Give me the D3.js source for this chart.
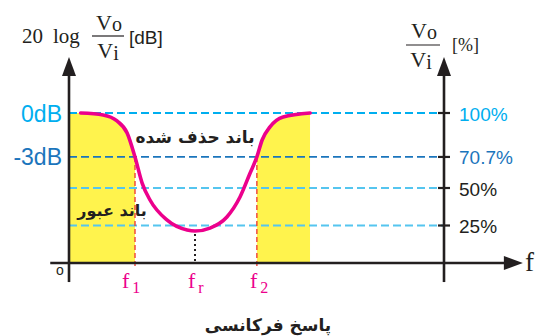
<!DOCTYPE html>
<html>
<head>
<meta charset="utf-8">
<script src="https://cdn.jsdelivr.net/npm/d3@7"></script>
<style>
  html, body { margin: 0; padding: 0; background: #fff; }
  svg { display: block; }
</style>
</head>
<body>
<svg id="chart" width="536" height="336"></svg>
<script>
// Band-stop response: frequency (arbitrary units) vs. Vo/Vi in percent
const freq = [3.1, 9.1, 12.8, 15.5, 17.6, 19.5, 21.6, 26.1, 31.5, 33.6, 37.6, 42.1, 45.6, 48.3, 50.1, 51.5, 53.6, 57.1, 64.3];
const gain = [100, 98.7, 94.7, 86.7, 70.7, 53.3, 42, 28.7, 22, 21.3, 23.3, 30.7, 44, 60, 70.7, 82, 90.7, 97.3, 100];

// Reference levels and their labels
const levels = [100, 70.7, 50, 25];
const pctLabels = ["100%", "70.7%", "50%", "25%"];
const dbLabels = ["0dB", "-3dB"];

// Marked frequencies
const markers = [
  { name: "f", sub: "1", f: 17.6, kind: "cut" },
  { name: "f", sub: "r", f: 33.6, kind: "res" },
  { name: "f", sub: "2", f: 50.1, kind: "cut" }
];
// Pass bands (shaded)
const passBands = [[0, 17.6], [50.1, 64.3]];

const svg = d3.select("#chart");
const x = d3.scaleLinear().domain([0, 100]).range([69, 444]);
const y = d3.scaleLinear().domain([0, 100]).range([263, 113]);

const serif = "'Liberation Serif', 'Times New Roman', serif";
const sans = "'Liberation Sans', Arial, sans-serif";
const farsi = "'DejaVu Sans', sans-serif";
const ink = "#231f20";
const pink = "#ec008c";
const levelColors = ["#00aeef", "#1b75bc", "#55c5ef", "#55c5ef"];
const labelColors = ["#00aeef", "#1b75bc", ink, ink];

const pts = freq.map((f, i) => [f, gain[i]]);

// Shaded pass bands under the curve
const defs = svg.append("defs");
passBands.forEach((b, i) => {
  defs.append("clipPath").attr("id", "band" + i)
    .append("rect")
    .attr("x", x(b[0])).attr("y", 0)
    .attr("width", x(b[1]) - x(b[0])).attr("height", y(0));
});
const area = d3.area()
  .x(d => x(d[0])).y0(y(0)).y1(d => y(d[1]))
  .curve(d3.curveMonotoneX);
passBands.forEach((b, i) => {
  svg.append("path")
    .datum([[0, 100]].concat(pts))
    .attr("d", area)
    .attr("fill", "#fff34d")
    .attr("clip-path", `url(#band${i})`);
});

// Dashed reference levels
svg.append("g").selectAll("line").data(levels).join("line")
  .attr("x1", x(0)).attr("x2", x(100))
  .attr("y1", d => y(d)).attr("y2", d => y(d))
  .attr("stroke", (d, i) => levelColors[i])
  .attr("stroke-width", 1.8)
  .attr("stroke-dasharray", "8,4");

// Marker guide lines
svg.append("g").selectAll("line").data(markers).join("line")
  .attr("x1", d => x(d.f)).attr("x2", d => x(d.f))
  .attr("y1", d => d.kind === "cut" ? y(70.7) : y(d3.min(gain)) + 3)
  .attr("y2", d => d.kind === "cut" ? y(0) + 6 : y(0))
  .attr("stroke", d => d.kind === "cut" ? "#ef4136" : ink)
  .attr("stroke-width", d => d.kind === "cut" ? 1.4 : 2)
  .attr("stroke-dasharray", d => d.kind === "cut" ? "5,3" : "2,3");

// Response curve
svg.append("path")
  .datum(pts)
  .attr("d", d3.line().x(d => x(d[0])).y(d => y(d[1])).curve(d3.curveMonotoneX))
  .attr("fill", "none")
  .attr("stroke", pink)
  .attr("stroke-width", 3.6)
  .attr("stroke-linecap", "round");

// Axes
const xEnd = 116.5;
const axes = svg.append("g").attr("stroke", ink).attr("stroke-width", 2.6);
axes.append("line").attr("x1", x(0)).attr("x2", x(0)).attr("y1", y(132)).attr("y2", y(-12.7));
axes.append("line").attr("x1", x(100)).attr("x2", x(100)).attr("y1", y(132)).attr("y2", y(-12.7));
axes.append("line").attr("x1", x(-5)).attr("x2", x(xEnd)).attr("y1", y(0)).attr("y2", y(0));

// Arrowheads
const arrows = svg.append("g").attr("fill", ink);
[x(0), x(100)].forEach(ax => {
  const tip = y(137.3);
  arrows.append("path").attr("d", `M${ax},${tip} L${ax - 7},${tip + 19} L${ax + 7},${tip + 19} Z`);
});
{
  const tx = x(xEnd) + 17, ty = y(0);
  arrows.append("path").attr("d", `M${tx},${ty} L${tx - 19},${ty - 7} L${tx - 19},${ty + 7} Z`);
}

// Right-axis ticks
svg.append("g").selectAll("line").data(levels).join("line")
  .attr("x1", x(100) - 6).attr("x2", x(100) + 6)
  .attr("y1", d => y(d)).attr("y2", d => y(d))
  .attr("stroke", ink).attr("stroke-width", 2.2);

// Level labels
svg.append("g").selectAll("text").data(dbLabels).join("text")
  .attr("x", x(0) - 7).attr("y", (d, i) => y(levels[i]) + 8.5)
  .attr("text-anchor", "end")
  .attr("font-family", sans).attr("font-size", 23)
  .attr("fill", (d, i) => labelColors[i])
  .text(d => d);
svg.append("g").selectAll("text").data(pctLabels).join("text")
  .attr("x", x(100) + 15).attr("y", (d, i) => y(levels[i]) + 7.5)
  .attr("font-family", sans).attr("font-size", 19)
  .attr("fill", (d, i) => labelColors[i])
  .text(d => d);

// Frequency marker labels
const ml = svg.append("g").selectAll("text").data(markers).join("text")
  .attr("x", d => x(d.f) + (d.sub === "1" ? -13 : -7))
  .attr("y", y(0) + 25)
  .attr("font-family", serif).attr("font-size", 22)
  .attr("fill", pink);
ml.append("tspan").text(d => d.name);
ml.append("tspan").attr("dx", 3).attr("dy", 5).attr("font-size", 16).text(d => d.sub);

// Origin and frequency axis labels
svg.append("text").attr("x", x(0) - 9).attr("y", y(0) + 12)
  .attr("text-anchor", "middle").attr("font-family", sans).attr("font-size", 14)
  .attr("fill", ink).text("o");
svg.append("text").attr("x", x(xEnd) + 19).attr("y", y(0) + 8)
  .attr("font-family", serif).attr("font-size", 27).attr("fill", ink).text("f");

// Left axis title: 20 log Vo/Vi [dB]
const lt = svg.append("g").attr("fill", ink).attr("font-family", serif);
lt.append("text").attr("x", 22).attr("y", 43).attr("font-size", 21).text("20");
lt.append("text").attr("x", 53).attr("y", 43).attr("font-size", 21).text("log");
{
  const t1 = lt.append("text").attr("x", 109).attr("y", 30).attr("text-anchor", "middle").attr("font-size", 22);
  t1.append("tspan").text("V");
  t1.append("tspan").attr("font-size", 20).attr("dy", 1).text("o");
  lt.append("line").attr("x1", 92).attr("x2", 124).attr("y1", 36).attr("y2", 36)
    .attr("stroke", ink).attr("stroke-width", 1.2);
  const t2 = lt.append("text").attr("x", 108).attr("y", 58).attr("text-anchor", "middle").attr("font-size", 22);
  t2.append("tspan").text("V");
  t2.append("tspan").attr("font-size", 20).attr("dy", 2).text("i");
}
lt.append("text").attr("x", 129).attr("y", 44).attr("font-family", sans).attr("font-size", 19).text("[dB]");

// Right axis title: Vo/Vi [%]
const rt = svg.append("g").attr("fill", ink).attr("font-family", serif);
{
  const t1 = rt.append("text").attr("x", 424).attr("y", 38).attr("text-anchor", "middle").attr("font-size", 22);
  t1.append("tspan").text("V");
  t1.append("tspan").attr("font-size", 20).attr("dy", 1).text("o");
  rt.append("line").attr("x1", 406).attr("x2", 440).attr("y1", 45).attr("y2", 45)
    .attr("stroke", ink).attr("stroke-width", 1.2);
  const t2 = rt.append("text").attr("x", 421).attr("y", 67).attr("text-anchor", "middle").attr("font-size", 22);
  t2.append("tspan").text("V");
  t2.append("tspan").attr("font-size", 20).attr("dy", 2).text("i");
}
rt.append("text").attr("x", 452).attr("y", 51).attr("font-size", 18).text("[%]");

// Band annotations and caption
const fa = svg.append("g").attr("fill", ink).attr("font-family", farsi)
  .attr("font-weight", "bold").attr("text-anchor", "middle");
fa.append("text").attr("x", 195).attr("y", 143).attr("font-size", 17).text("باند حذف شده");
fa.append("text").attr("x", 112).attr("y", 216).attr("font-size", 16).text("باند عبور");
fa.append("text").attr("x", 268).attr("y", 331).attr("font-size", 17).text("پاسخ فرکانسی");
</script>
</body>
</html>
